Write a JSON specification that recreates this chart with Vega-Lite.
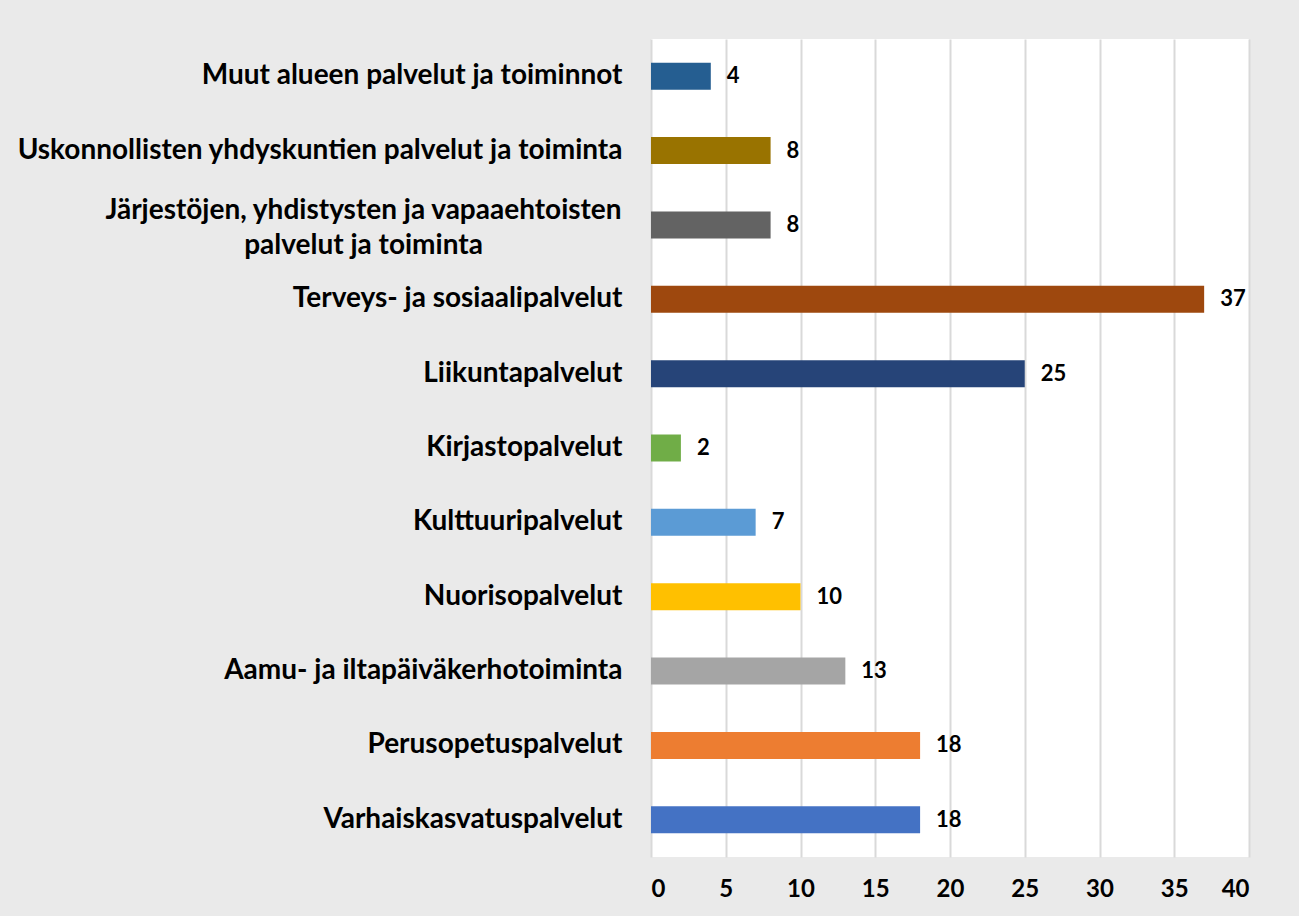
{
  "$schema": "https://vega.github.io/schema/vega-lite/v6.json",
  "autosize": {"type": "none"},
  "padding": {"left": 651, "top": 39, "right": 50, "bottom": 59},
  "width": 598,
  "height": 818,
  "background": "#eaeaea",
  "config": {
    "view": {"fill": "#ffffff", "stroke": null},
    "font": "Lato"
  },
  "data": {
    "values": [
      {"palvelu": "Muut alueen palvelut ja toiminnot", "lkm": 4},
      {"palvelu": "Uskonnollisten yhdyskuntien palvelut ja toiminta", "lkm": 8},
      {"palvelu": "Järjestöjen, yhdistysten ja vapaaehtoisten palvelut ja toiminta", "lkm": 8},
      {"palvelu": "Terveys- ja sosiaalipalvelut", "lkm": 37},
      {"palvelu": "Liikuntapalvelut", "lkm": 25},
      {"palvelu": "Kirjastopalvelut", "lkm": 2},
      {"palvelu": "Kulttuuripalvelut", "lkm": 7},
      {"palvelu": "Nuorisopalvelut", "lkm": 10},
      {"palvelu": "Aamu- ja iltapäiväkerhotoiminta", "lkm": 13},
      {"palvelu": "Perusopetuspalvelut", "lkm": 18},
      {"palvelu": "Varhaiskasvatuspalvelut", "lkm": 18}
    ]
  },
  "encoding": {
    "y": {
      "field": "palvelu",
      "type": "nominal",
      "sort": null,
      "scale": {"paddingInner": 0.637, "paddingOuter": 0.3185},
      "axis": {
        "title": null,
        "domain": false,
        "ticks": false,
        "labelPadding": {"condition": {"test": "datum.value == 'Järjestöjen, yhdistysten ja vapaaehtoisten palvelut ja toiminta'", "value": 288}, "value": 29},
        "labelAlign": {"condition": {"test": "datum.value == 'Järjestöjen, yhdistysten ja vapaaehtoisten palvelut ja toiminta'", "value": "center"}, "value": "right"},
        "labelOffset": {"condition": {"test": "datum.value == 'Järjestöjen, yhdistysten ja vapaaehtoisten palvelut ja toiminta'", "value": -14}, "value": 0},
        "labelFont": "Lato",
        "labelFontSize": 28,
        "labelFontWeight": "bold",
        "labelColor": "#000000",
        "labelLimit": 0,
        "labelLineHeight": 35,
        "labelExpr": "datum.label == 'Järjestöjen, yhdistysten ja vapaaehtoisten palvelut ja toiminta' ? ['Järjestöjen, yhdistysten ja vapaaehtoisten', 'palvelut ja toiminta'] : datum.label"
      }
    },
    "x": {
      "field": "lkm",
      "type": "quantitative",
      "scale": {"domain": [0, 40], "nice": false},
      "axis": {
        "title": null,
        "values": [0, 5, 10, 15, 20, 25, 30, 35, 40],
        "domain": false,
        "ticks": false,
        "grid": true,
        "gridColor": "#d9d9d9",
        "gridWidth": 2,
        "labelPadding": 20,
        "labelFont": "Lato",
        "labelFontSize": 24,
        "labelFontWeight": "bold",
        "labelColor": "#000000"
      }
    }
  },
  "layer": [
    {
      "mark": {"type": "bar"},
      "encoding": {
        "color": {
          "field": "palvelu",
          "type": "nominal",
          "legend": null,
          "scale": {
            "domain": [
              "Muut alueen palvelut ja toiminnot",
              "Uskonnollisten yhdyskuntien palvelut ja toiminta",
              "Järjestöjen, yhdistysten ja vapaaehtoisten palvelut ja toiminta",
              "Terveys- ja sosiaalipalvelut",
              "Liikuntapalvelut",
              "Kirjastopalvelut",
              "Kulttuuripalvelut",
              "Nuorisopalvelut",
              "Aamu- ja iltapäiväkerhotoiminta",
              "Perusopetuspalvelut",
              "Varhaiskasvatuspalvelut"
            ],
            "range": ["#255e91", "#997300", "#636363", "#9e480e", "#264478", "#70ad47", "#5b9bd5", "#ffc000", "#a5a5a5", "#ed7d31", "#4472c4"]
          }
        }
      }
    },
    {
      "mark": {"type": "text", "align": "left", "baseline": "middle", "dx": 16, "font": "Lato", "fontSize": 22, "fontWeight": "bold", "color": "#000000"},
      "encoding": {
        "text": {"field": "lkm", "type": "quantitative"}
      }
    }
  ]
}
